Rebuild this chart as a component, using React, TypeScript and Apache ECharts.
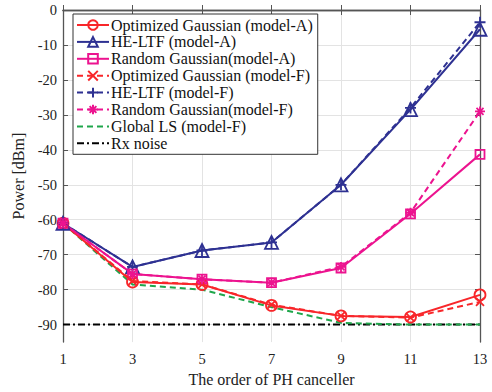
import React, { useEffect, useRef } from "react";
import * as echarts from "echarts";

const xOrders = [1, 3, 5, 7, 9, 11, 13];
const xTicks = [1, 3, 5, 7, 9, 11, 13];
const yTicks = [0, -10, -20, -30, -40, -50, -60, -70, -80, -90];

const optGaussA = [-61, -77.8, -78.5, -84.5, -87.5, -87.8, -81.5];
const heltfA = [-61, -73.5, -68.8, -66.5, -50, -28.5, -5.5];
const randGaussA = [-61, -75.5, -77, -78, -73.8, -58.3, -41.3];
const optGaussF = [-61, -77.5, -78.5, -84.3, -87.5, -88, -83.5];
const heltfF = [-61, -73.5, -68.8, -66.5, -50, -28, -3.5];
const randGaussF = [-61, -75.5, -77, -78, -73.5, -58, -29];
const globalLSF = [-61, -78.5, -80, -85, -89.5, -90, -90];
const rxNoise = [-90, -90, -90, -90, -90, -90, -90];

const RED = "#f8262a";
const NAVY = "#2e3192";
const MAG = "#ec138f";
const GREEN = "#1fa64b";
const FONT = "Liberation Serif";

const X_SYM = "path://M0,0L10,10M0,10L10,0";
const PLUS_SYM = "path://M5,0L5,10M0,5L10,5";
const STAR_SYM = "path://M5,0L5,10M0,5L10,5M1.5,1.5L8.5,8.5M1.5,8.5L8.5,1.5";

function pairs(vals: number[]) {
  return xOrders.map((x, i) => [x, vals[i]]);
}

export default function App() {
  const ref = useRef<HTMLDivElement>(null);
  useEffect(() => {
    if (!ref.current) return;
    const chart = echarts.init(ref.current, undefined, { renderer: "svg" });
    const mk = (
      name: string,
      vals: number[],
      color: string,
      symbol: string,
      size: number,
      dashed: any,
      z: number
    ) => {
      const noSym = symbol === "none";
      return {
        name,
        type: "line",
        data: pairs(vals),
        symbol: noSym ? "circle" : symbol,
        symbolSize: noSym ? 0 : size,
        showSymbol: !noSym,
        clip: false,
        z,
        lineStyle: { color, width: 2, type: dashed },
        itemStyle: noSym
          ? { color: "none", borderColor: "none", borderWidth: 0 }
          : { color: "none", borderColor: color, borderWidth: 1.8 },
        emphasis: { disabled: true },
      };
    };
    chart.setOption({
      animation: false,
      grid: { left: 63, right: 12, top: 10, bottom: 43 },
      legend: {
        orient: "vertical",
        left: 73,
        top: 14,
        padding: [3, 5, 3, 3],
        itemGap: 0.9,
        itemWidth: 32,
        itemHeight: 12,
        backgroundColor: "#fff",
        borderColor: "#333",
        borderWidth: 1,
        borderRadius: 0,
        textStyle: { fontFamily: FONT, fontSize: 16, color: "#111", padding: [0, 0, 0, -3] },
        data: [
          "Optimized Gaussian (model-A)",
          "HE-LTF (model-A)",
          "Random Gaussian(model-A)",
          "Optimized Gaussian (model-F)",
          "HE-LTF (model-F)",
          "Random Gaussian(model-F)",
          "Global LS (model-F)",
          "Rx noise",
        ],
      },
      xAxis: [
        {
          type: "value",
          min: 1,
          max: 13,
          name: "The order of PH canceller",
          nameLocation: "middle",
          nameGap: 25,
          nameTextStyle: { fontFamily: FONT, fontSize: 16, color: "#222" },
          axisLine: { show: true, lineStyle: { color: "#555", width: 1.3 } },
          axisTick: { show: true, inside: true, length: 5, customValues: xTicks, lineStyle: { color: "#555" } },
          axisLabel: { customValues: xTicks, fontFamily: FONT, fontSize: 14.5, color: "#222", margin: 9 },
          splitLine: { show: true, lineStyle: { color: "#e3e3e3", width: 1 } },
        },
        {
          type: "value",
          position: "top",
          min: 1,
          max: 13,
          axisLine: { show: true, onZero: false, lineStyle: { color: "#555", width: 1.3 } },
          axisTick: { show: true, inside: true, length: 5, customValues: xTicks, lineStyle: { color: "#555" } },
          axisLabel: { show: false },
          splitLine: { show: false },
        },
      ],
      yAxis: [
        {
          type: "value",
          min: -95,
          max: 0,
          name: "Power [dBm]",
          nameLocation: "middle",
          nameGap: 37,
          nameTextStyle: { fontFamily: FONT, fontSize: 16, color: "#222" },
          axisLine: { show: true, lineStyle: { color: "#555", width: 1.3 } },
          axisTick: { show: true, inside: true, length: 5, customValues: yTicks, lineStyle: { color: "#555" } },
          axisLabel: { customValues: yTicks, fontFamily: FONT, fontSize: 14.5, color: "#222", margin: 6 },
          splitLine: { show: true, lineStyle: { color: "#e3e3e3", width: 1 } },
        },
        {
          type: "value",
          position: "right",
          min: -95,
          max: 0,
          axisLine: { show: true, onZero: false, lineStyle: { color: "#555", width: 1.3 } },
          axisTick: { show: true, inside: true, length: 5, customValues: yTicks, lineStyle: { color: "#555" } },
          axisLabel: { show: false },
          splitLine: { show: false },
        },
      ],
      series: [
        mk("Rx noise", rxNoise, "#000", "none", 0, [7, 3, 2, 3], 2),
        mk("Global LS (model-F)", globalLSF, GREEN, "none", 0, [6, 4], 3),
        mk("Optimized Gaussian (model-A)", optGaussA, RED, "circle", 11, "solid", 4),
        mk("HE-LTF (model-A)", heltfA, NAVY, "triangle", 13, "solid", 4),
        mk("Random Gaussian(model-A)", randGaussA, MAG, "rect", 9, "solid", 4),
        mk("Optimized Gaussian (model-F)", optGaussF, RED, X_SYM, 8, [6, 4], 5),
        mk("HE-LTF (model-F)", heltfF, NAVY, PLUS_SYM, 11, [6, 4], 5),
        mk("Random Gaussian(model-F)", randGaussF, MAG, STAR_SYM, 10, [6, 4], 5),
      ],
    });
    return () => chart.dispose();
  }, []);
  return (
    <div
      ref={ref}
      style={{ position: "absolute", left: 0, top: 0, width: 492, height: 392 }}
    />
  );
}
